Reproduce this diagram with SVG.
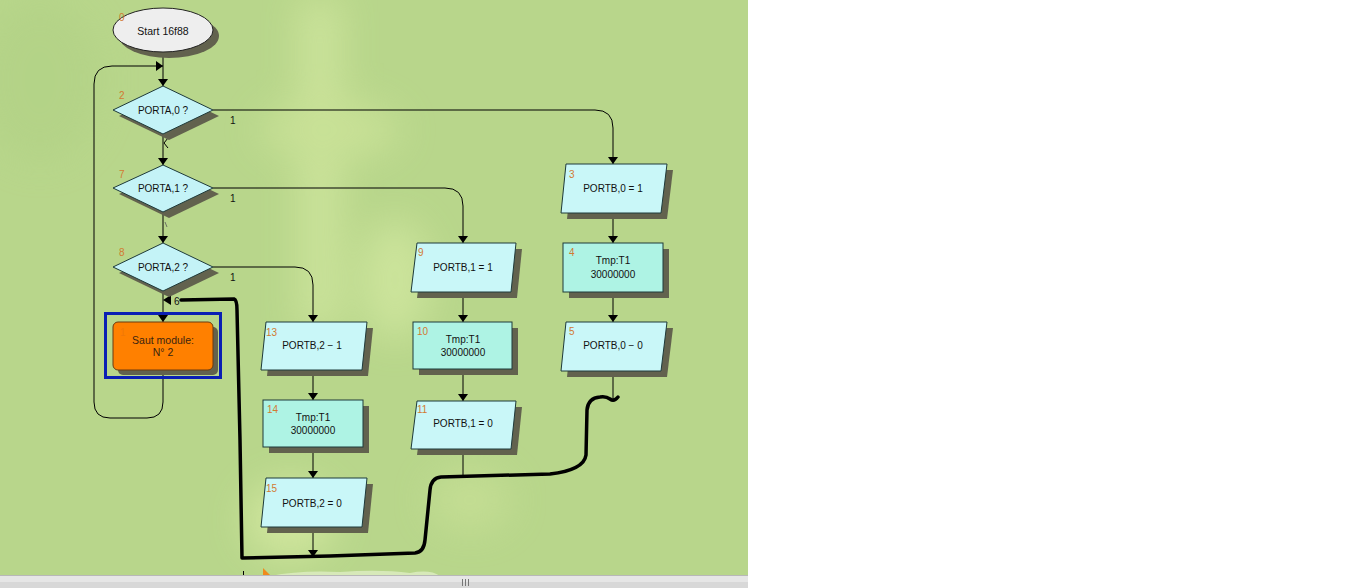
<svg xmlns="http://www.w3.org/2000/svg" width="1360" height="588" viewBox="0 0 1360 588">
<defs>
<style>
text{font-family:"Liberation Sans",Arial,sans-serif;font-size:10px;fill:#111}
.c{text-anchor:middle}
.n{fill:#d27a32}
.sh{fill:#62624e}
.io{fill:#c9f7f8;stroke:#1e3a3a;stroke-width:1}
.pr{fill:#aef3e4;stroke:#1e3a3a;stroke-width:1}
.dm{fill:#c4f3f7;stroke:#1e3a3a;stroke-width:1}
.ln{fill:none;stroke:#000;stroke-width:1}
.thick{fill:none;stroke:#000;stroke-width:3.5;stroke-linejoin:round;stroke-linecap:round}
</style>
<marker id="ah" viewBox="0 0 7 10" markerWidth="7" markerHeight="10" refX="7" refY="5" orient="auto" markerUnits="userSpaceOnUse">
<path d="M0,0 L7,5 L0,10 z" fill="#000"/>
</marker>
<filter id="blur" x="-50%" y="-50%" width="200%" height="200%"><feGaussianBlur stdDeviation="18"/></filter>
</defs>

<rect x="0" y="0" width="1360" height="588" fill="#fff"/>
<g id="background">
<rect x="0" y="0" width="748" height="576" fill="#b8d68b"/>
<g filter="url(#blur)" opacity="0.75">
<rect x="300" y="0" width="40" height="330" fill="#d3e8a0"/>
<ellipse cx="330" cy="130" rx="70" ry="30" fill="#cde49a"/>
<ellipse cx="395" cy="280" rx="35" ry="60" fill="#d2e8a0"/>
<ellipse cx="290" cy="520" rx="45" ry="40" fill="#d6eaa2"/>
<ellipse cx="470" cy="500" rx="40" ry="30" fill="#c8e096"/>
<ellipse cx="40" cy="80" rx="60" ry="80" fill="#b2d286"/>
</g>
<path d="M270,576 Q300,570 340,572 Q380,569 410,573 Q430,569 440,576 Z" fill="#dfeec4" opacity="0.8"/>
<rect x="0" y="575" width="748" height="13" fill="#e6e6e6"/>
<line x1="0" y1="575.5" x2="748" y2="575.5" stroke="#b8b8b8"/>
<rect x="0" y="582" width="748" height="6" fill="#d8d8d8"/>
<g stroke="#777" stroke-width="1">
<line x1="462.5" y1="579" x2="462.5" y2="586"/>
<line x1="465.5" y1="579" x2="465.5" y2="586"/>
<line x1="468.5" y1="579" x2="468.5" y2="586"/>
</g>
<path d="M263,568 L270,575 L263,575 Z" fill="#f08a1c"/>
<line x1="243.5" y1="571" x2="243.5" y2="575" stroke="#000"/>
</g>

<g id="connectors">
<path class="ln" d="M163,52 V86" marker-end="url(#ah)"/>
<path class="ln" d="M163,370 V402 Q163,418 147,418 H110 Q94,418 94,402 V84 Q94,66 112,66 H163" marker-end="url(#ah)"/>
<path class="ln" d="M163,134 V165" marker-end="url(#ah)"/>
<path class="ln" d="M168,138 L164,143 L168,148"/>
<path class="ln" d="M163,212 V243" marker-end="url(#ah)"/>
<path d="M165,222 L167,227" stroke="#555" stroke-width="0.8"/>
<path class="ln" d="M163,291 V322" marker-end="url(#ah)"/>
<path d="M163,300 L171,295 L171,305 Z" fill="#000"/>
<path class="ln" d="M213,110 H595 Q613,110 613,128 V164" marker-end="url(#ah)"/>
<path class="ln" d="M213,188 H445 Q463,188 463,206 V243" marker-end="url(#ah)"/>
<path class="ln" d="M213,267 H295 Q313,267 313,285 V322" marker-end="url(#ah)"/>
<path class="ln" d="M313,370 V400" marker-end="url(#ah)"/>
<path class="ln" d="M313,447 V478" marker-end="url(#ah)"/>
<path class="ln" d="M313,527 V557" marker-end="url(#ah)"/>
<path class="ln" d="M463,292 V322" marker-end="url(#ah)"/>
<path class="ln" d="M463,369 V401" marker-end="url(#ah)"/>
<path class="ln" d="M463,449 V475"/>
<path class="ln" d="M613,213 V243" marker-end="url(#ah)"/>
<path class="ln" d="M613,292 V322" marker-end="url(#ah)"/>
<path class="ln" d="M613,371 V398"/>
<path class="thick" d="M181,300 L234,299 Q237,300 237,310 L240,440 L242,558 L330,556 L415,553 Q424,552 425,540 L430,490 Q431,478 441,477 L550,474 Q584,470 586,455 L587,410 Q588,398 600,397 Q606,396 610,399 Q614,402 618,397"/>
<text x="230" y="124">1</text>
<text x="230" y="202">1</text>
<text x="230" y="281">1</text>
<text x="174" y="305">6</text>
</g>

<g id="node-0">
<ellipse class="sh" cx="169" cy="36" rx="50" ry="22"/>
<ellipse cx="163" cy="30" rx="50" ry="22" fill="#eeeeee" stroke="#222" stroke-width="1"/>
<text class="n" x="119" y="21">0</text>
<text class="c" x="163" y="35" style="font-size:10.5px">Start 16f88</text>
</g>

<g id="node-2">
<polygon class="sh" points="169,92 219,116 169,140 119,116"/>
<polygon class="dm" points="163,86 213,110 163,134 113,110"/>
<text class="n" x="119" y="99">2</text>
<text class="c" x="163" y="114">PORTA,0 ?</text>
</g>

<g id="node-7">
<polygon class="sh" points="169,170 219,194 169,218 119,194"/>
<polygon class="dm" points="163,165 213,188 163,212 113,188"/>
<text class="n" x="119" y="178">7</text>
<text class="c" x="163" y="192">PORTA,1 ?</text>
</g>

<g id="node-8">
<polygon class="sh" points="169,249 219,273 169,297 119,273"/>
<polygon class="dm" points="163,243 213,267 163,291 113,267"/>
<text class="n" x="119" y="256">8</text>
<text class="c" x="163" y="271">PORTA,2 ?</text>
</g>

<g id="node-1">
<rect class="sh" x="118" y="327" width="100" height="48" rx="5"/>
<rect x="113" y="322" width="100" height="48" rx="5" fill="#ff8000" stroke="#6a3a10" stroke-width="1"/>
<rect x="105.5" y="313.5" width="115" height="64" fill="none" stroke="#0a1fb4" stroke-width="3"/>
<text x="120" y="336" style="fill:#f07808">1</text>
<text class="c" x="163" y="344" style="font-size:10.5px;fill:#3a2410">Saut module:</text>
<text class="c" x="163" y="356" style="font-size:10.5px;fill:#3a2410">N° 2</text>
</g>

<g id="node-13">
<polygon class="sh" points="272,328 373,328 368,376 267,376"/>
<polygon class="io" points="266,322 367,322 362,370 261,370"/>
<text class="n" x="266" y="336">13</text>
<text class="c" x="312" y="349">PORTB,2 − 1</text>
</g>

<g id="node-14">
<rect class="sh" x="269" y="406" width="100" height="47"/>
<rect class="pr" x="263" y="400" width="100" height="47"/>
<text class="n" x="267" y="413">14</text>
<text class="c" x="313" y="421">Tmp:T1</text>
<text class="c" x="313" y="434">30000000</text>
</g>

<g id="node-15">
<polygon class="sh" points="272,484 373,484 368,533 267,533"/>
<polygon class="io" points="266,478 367,478 362,527 261,527"/>
<text class="n" x="266" y="492">15</text>
<text class="c" x="312" y="507">PORTB,2 = 0</text>
</g>

<g id="node-9">
<polygon class="sh" points="423,249 522,249 517,298 417,298"/>
<polygon class="io" points="417,243 516,243 511,292 411,292"/>
<text class="n" x="418" y="256">9</text>
<text class="c" x="463" y="271">PORTB,1 = 1</text>
</g>

<g id="node-10">
<rect class="sh" x="419" y="328" width="99" height="47"/>
<rect class="pr" x="413" y="322" width="99" height="47"/>
<text class="n" x="417" y="335">10</text>
<text class="c" x="463" y="343">Tmp:T1</text>
<text class="c" x="463" y="356">30000000</text>
</g>

<g id="node-11">
<polygon class="sh" points="423,407 522,407 517,455 417,455"/>
<polygon class="io" points="417,401 516,401 511,449 411,449"/>
<text class="n" x="417" y="413">11</text>
<text class="c" x="463" y="427">PORTB,1 = 0</text>
</g>

<g id="node-3">
<polygon class="sh" points="572,170 673,170 667,219 567,219"/>
<polygon class="io" points="566,164 667,164 661,213 561,213"/>
<text class="n" x="569" y="178">3</text>
<text class="c" x="613" y="192">PORTB,0 = 1</text>
</g>

<g id="node-4">
<rect class="sh" x="569" y="249" width="100" height="49"/>
<rect class="pr" x="563" y="243" width="100" height="49"/>
<text class="n" x="569" y="256">4</text>
<text class="c" x="613" y="264">Tmp:T1</text>
<text class="c" x="613" y="278">30000000</text>
</g>

<g id="node-5">
<polygon class="sh" points="572,328 673,328 667,377 567,377"/>
<polygon class="io" points="566,322 667,322 661,371 561,371"/>
<text class="n" x="569" y="335">5</text>
<text class="c" x="613" y="349">PORTB,0 − 0</text>
</g>
</svg>
